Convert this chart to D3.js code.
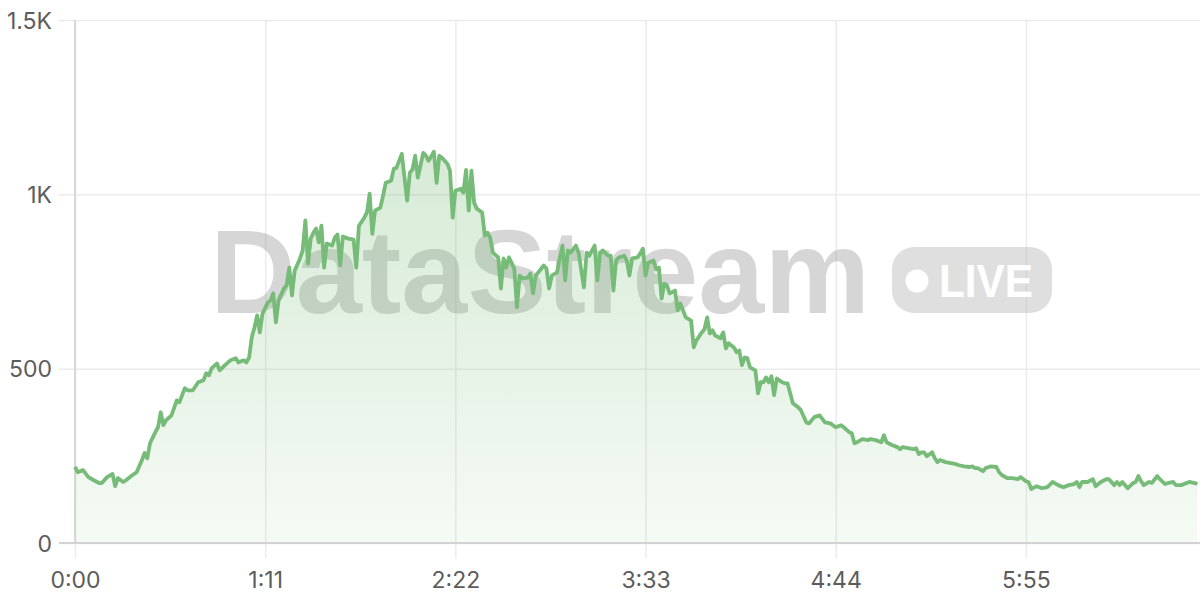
<!DOCTYPE html>
<html>
<head>
<meta charset="utf-8">
<script src="https://cdn.jsdelivr.net/npm/d3@7"></script>
<style>
  html, body { margin: 0; padding: 0; background: #ffffff; }
  svg { display: block; }
</style>
</head>
<body>
<svg id="chart" width="1200" height="600"></svg>
<script>
// ---- data (seconds since start, viewer count) ----
const times = [0,1,3,5,7,9,10,12,14,15,16,18,19,21,23,25,26,27,28,30,31,32,33,34,36,38,39,41,42,44,46,48,49,50,51,53,54,56,58,60,61,63,64,65,66,67,68,69,70,72,
73,74,75,76,78,79,80,81,82,84,85,86,87,88,89,90,91,92,93,94,96,97,98,99,100,102,104,105,106,108,109,110,111,112,114,115,116,118,119,120,121,122,124,125,126,127,128,130,131,132,134,135,136,137,139,140,141,142,144,145,146,147,148,149,
150,152,153,154,155,156,158,159,160,161,162,164,165,166,167,169,170,171,172,175,176,177,178,180,181,182,183,184,185,187,188,190,191,192,194,195,196,197,199,200,201,202,203,205,206,207,208,210,211,212,213,214,216,217,218,219,220,221,222,224,225,226,227,228,230,231,232,234,235,236,237,238,239,241,242,243,244,246,247,248,249,250,251,252,254,255,256,257,258,259,260,261,262,264,265,266,268,270,271,273,274,276,278,280,282,284,286,287,289,290,291,292,294,296,297,299,300,301,302,303,305,307,308,309,311,313,314,315,316,317,318,320,321,322,323,325,327,329,330,332,334,335,336,337,339,340,342,344,345,346,348,350,352,353,355,356,357,359,361,363,365,367,369,371,373,374,375,376,378,380,381,383,385,386,388,389,390,391,393,395,396,397,398,399,401,402,404,405,407,408,410,411,413,415,416,418,419];
const values = [218,203,209,189,180,172,172,189,198,163,186,175,180,192,203,238,258,243,286,318,332,375,338,352,366,409,404,444,438,438,461,467,487,481,501,515,495,510,524,530,518,524,518,532,590,618,653,604,658,690,
696,716,633,696,730,739,790,710,781,816,839,925,801,873,890,902,862,910,790,859,853,876,885,796,879,873,870,790,910,933,948,1002,887,953,962,996,1033,1039,1073,1076,1096,1116,982,1062,1071,1111,1048,1119,1111,1096,1122,1033,1111,1105,1088,1068,933,1010,1016,1005,1070,953,1068,976,
959,948,882,890,876,833,819,730,816,790,819,787,676,767,759,761,773,716,767,796,787,730,767,776,819,853,753,839,833,853,833,733,833,824,853,753,830,839,824,824,724,810,819,824,810,767,816,819,830,844,767,804,810,785,790,701,744,739,716,724,667,687,667,647,638,561,581,604,613,647,601,610,595,587,604,558,573,561,547,552,510,532,530,504,495,429,461,461,475,461,478,424,472,461,458,458,401,389,381,346,343,361,366,346,343,332,338,332,318,315,286,289,298,295,298,295,292,289,309,289,281,275,269,275,272,269,272,255,260,260,249,260,243,232,238,232,229,226,223,220,218,220,215,215,206,215,220,218,203,195,186,186,183,189,177,175,155,163,157,160,175,166,160,166,169,175,160,175,175,183,163,175,183,183,166,175,166,175,157,172,175,192,177,166,175,172,192,183,169,172,175,166,166,172,175,172,169];
const xTicks = [0, 71, 142, 213, 284, 355];
const yTicks = [0, 500, 1000, 1500];
const watermarkText = "DataStream";
const badgeText = "LIVE";

// ---- layout ----
const svg = d3.select("#chart");
const margin = { left: 75, top: 20, right: 0, bottom: 57 };
const W = 1200, H = 600;
const x = d3.scaleLinear().domain([0, 420]).range([margin.left, W - margin.right]);
const y = d3.scaleLinear().domain([0, 1500]).range([H - margin.bottom, margin.top]);

const data = times.map((t, i) => ({ t, v: values[i] }));
const fmtTime = s => Math.floor(s / 60) + ":" + String(s % 60).padStart(2, "0");
const fmtVal = v => v === 0 ? "0" : (v >= 1000 ? (v / 1000) + "K" : String(v));

const FONT = "Inter, 'Noto Sans', 'Liberation Sans', sans-serif";

// gradient
const defs = svg.append("defs");
const grad = defs.append("linearGradient").attr("id", "areaGrad")
  .attr("x1", 0).attr("y1", 0).attr("x2", 0).attr("y2", 1);
grad.append("stop").attr("offset", "0%").attr("stop-color", "#77bb77").attr("stop-opacity", 0.30);
grad.append("stop").attr("offset", "100%").attr("stop-color", "#77bb77").attr("stop-opacity", 0.07);

// grid: horizontal (y axis)
const yAxis = d3.axisLeft(y).tickValues(yTicks).tickFormat(fmtVal)
  .tickSize(-(W - margin.left + 16)).tickPadding(7);
const gy = svg.append("g").attr("transform", `translate(${margin.left - 16},0)`).call(yAxis);
gy.select(".domain").remove();
gy.selectAll(".tick line").attr("stroke", "#ebebeb").attr("stroke-width", 1.5)
  .attr("x2", W).attr("x1", 0);
gy.selectAll(".tick text").attr("font-family", FONT).attr("font-size", 23)
  .attr("fill", "#5c5c5c").attr("x", -7).attr("dy", "0.35em");

// grid: vertical (x axis)
const xAxis = d3.axisBottom(x).tickValues(xTicks).tickFormat(fmtTime)
  .tickSize(-(H - margin.bottom - margin.top)).tickPadding(14);
const gx = svg.append("g").attr("transform", `translate(0,${H - margin.bottom + 15})`).call(xAxis);
gx.select(".domain").remove();
gx.selectAll(".tick line").attr("stroke", "#ebebeb").attr("stroke-width", 1.5)
  .attr("y1", 0).attr("y2", -(H - margin.bottom - margin.top + 15));
gx.selectAll(".tick text").attr("font-family", FONT).attr("font-size", 23)
  .attr("fill", "#5c5c5c").attr("y", 22).attr("dy", "0.35em");

// watermark
const wm = svg.append("g").attr("opacity", 0.4);
wm.append("text").attr("x", 210).attr("y", 313)
  .attr("font-family", "'Liberation Sans', Arial, sans-serif").attr("font-weight", "bold")
  .attr("font-size", 118).attr("textLength", 660).attr("lengthAdjust", "spacingAndGlyphs")
  .attr("fill", "#9a9a9a").text(watermarkText);
wm.append("rect").attr("x", 892).attr("y", 247).attr("width", 160).attr("height", 66)
  .attr("rx", 22).attr("fill", "#b0b0b0");
svg.append("circle").attr("cx", 917).attr("cy", 281).attr("r", 11.5).attr("fill", "#ffffff");
svg.append("text").attr("x", 939).attr("y", 297)
  .attr("font-family", "'Liberation Sans', Arial, sans-serif").attr("font-weight", "bold")
  .attr("font-size", 47).attr("textLength", 94).attr("lengthAdjust", "spacingAndGlyphs")
  .attr("fill", "#ffffff").text(badgeText);

// axis lines
svg.append("line").attr("x1", margin.left).attr("x2", margin.left)
  .attr("y1", margin.top).attr("y2", y(0)).attr("stroke", "#d8d8d8").attr("stroke-width", 2);

// area + line
const area = d3.area().x(d => x(d.t)).y0(y(0)).y1(d => y(d.v));
svg.append("path").datum(data).attr("d", area).attr("fill", "url(#areaGrad)");

svg.append("line").attr("x1", margin.left - 16).attr("x2", W)
  .attr("y1", y(0)).attr("y2", y(0)).attr("stroke", "#d2d2d2").attr("stroke-width", 2);

const line = d3.line().x(d => x(d.t)).y(d => y(d.v));
svg.append("path").datum(data).attr("d", line).attr("fill", "none")
  .attr("stroke", "#76bb77").attr("stroke-width", 3.8).attr("stroke-linejoin", "round");
</script>
</body>
</html>
